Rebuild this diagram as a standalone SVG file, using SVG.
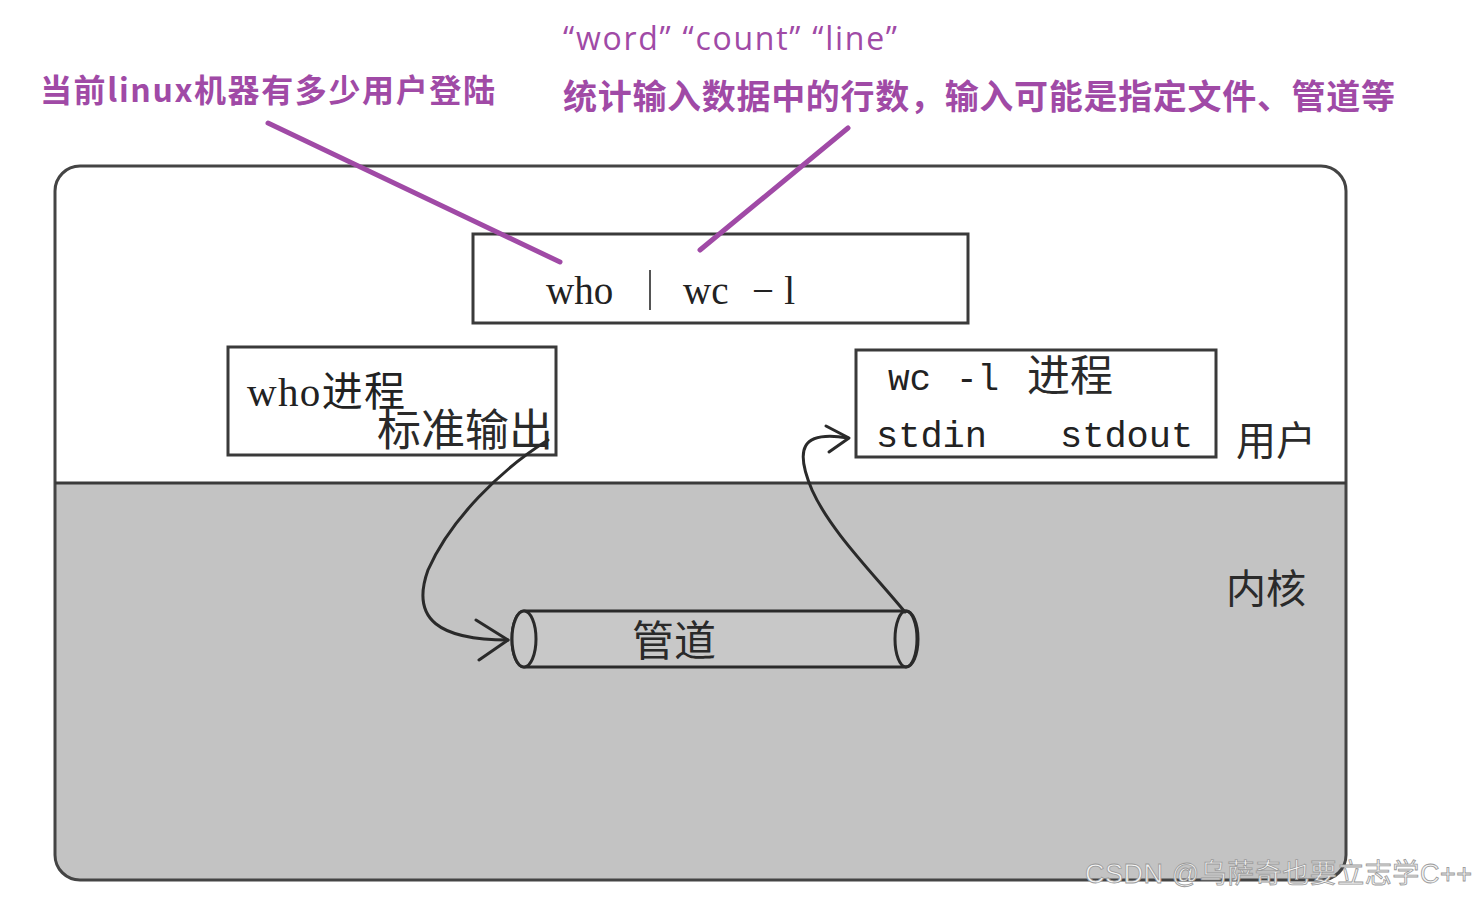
<svg xmlns="http://www.w3.org/2000/svg" width="1478" height="899" viewBox="0 0 1478 899">
<style>
.box{fill:#fff;stroke:#3a3a3a;stroke-width:3}
.serif{font-family:"Liberation Serif","Noto Sans CJK SC",serif;fill:#222}
.mono{font-family:"Liberation Mono","Noto Sans CJK SC",monospace;fill:#222}
.cjk{font-family:"Noto Sans CJK SC",sans-serif;fill:#2a2a2a}
.purple{font-family:"Noto Sans CJK SC","Liberation Sans",sans-serif;fill:#a04aa6}
.conn{fill:none;stroke:#2a2a2a;stroke-width:3;stroke-linecap:round;stroke-linejoin:round}
.ann{fill:none;stroke:#a04aa6;stroke-width:5;stroke-linecap:round}
</style>
<rect width="1478" height="899" fill="#fff"/>
<g id="frame">
<path d="M80 166 H1322 Q1346 166 1346 190 V483 H55 V190 Q55 166 80 166 Z" fill="#fff"/>
<path d="M55 483 H1346 V856 Q1346 880 1322 880 H80 Q55 880 55 856 Z" fill="#c3c3c3"/>
<rect x="55" y="166" width="1291" height="714" rx="25" fill="none" stroke="#444" stroke-width="3"/>
<line x1="55" y1="483" x2="1346" y2="483" stroke="#3a3a3a" stroke-width="3"/>
<text class="cjk" x="1236" y="455" font-size="40">用户</text>
<text class="cjk" x="1226" y="603" font-size="40">内核</text>
</g>
<g id="command">
<rect class="box" x="473" y="234" width="495" height="89"/>
<text class="serif" x="546" y="304" font-size="39">who</text>
<line x1="650" y1="270" x2="650" y2="310" stroke="#555" stroke-width="2"/>
<text class="serif" x="683" y="304" font-size="39">wc</text>
<text class="serif" x="752" y="304" font-size="39" textLength="43">−l</text>
</g>
<g id="who-proc">
<rect class="box" x="228" y="347" width="328" height="108"/>
<text class="serif" x="247" y="406" font-size="41" textLength="158">who进程</text>
<text class="cjk" x="377" y="446" font-size="44">标准输出</text>
</g>
<g id="wc-proc">
<rect class="box" x="856" y="350" width="360" height="107"/>
<text class="mono" x="888" y="390" font-size="36">wc</text>
<text class="mono" x="956" y="390" font-size="36">-l</text>
<text class="cjk" x="1027" y="391" font-size="43">进程</text>
<text class="mono" x="876" y="447" font-size="37">stdin</text>
<text class="mono" x="1060" y="447" font-size="37">stdout</text>
</g>
<g id="pipe">
<path d="M524 611 H906 A12 28 0 0 1 906 667 H524 A12 28 0 0 1 524 611 Z" fill="#c8c8c8" stroke="#2a2a2a" stroke-width="3"/>
<ellipse cx="524" cy="639" rx="12" ry="28" fill="#c8c8c8" stroke="#2a2a2a" stroke-width="3"/>
<ellipse cx="906" cy="639" rx="11" ry="28" fill="none" stroke="#2a2a2a" stroke-width="3"/>
<text class="cjk" x="632" y="656" font-size="42">管道</text>
</g>
<g id="connectors">
<path class="conn" d="M548 440 C500 470 450 520 428 570 C410 620 440 640 508 640"/>
<path class="conn" d="M476 620 L508 640 L479 660"/>
<path class="conn" d="M905 612 C870 570 830 530 812 490 C795 450 800 430 848 438"/>
<path class="conn" d="M826 426 L849 438 L829 452"/>
<line class="ann" x1="268" y1="123" x2="560" y2="262"/>
<line class="ann" x1="848" y1="128" x2="700" y2="250"/>
</g>
<g id="annotations">
<text class="purple" x="40" y="102" font-size="32" font-weight="bold" textLength="455">当前linux机器有多少用户登陆</text>
<text x="563" y="50" font-family="Open Sans,Liberation Sans,sans-serif" font-size="32" fill="#a04aa6" textLength="334">“word” “count” “line”</text>
<text class="purple" x="563" y="109" font-size="34" font-weight="bold" textLength="832">统计输入数据中的行数，输入可能是指定文件、管道等</text>
</g>
<text x="1085" y="883" font-family="Liberation Sans,Noto Sans CJK SC,sans-serif" font-size="27" fill="#f4f4f4" stroke="#999" stroke-width="0.8" textLength="387">CSDN @乌萨奇也要立志学C++</text>
</svg>
